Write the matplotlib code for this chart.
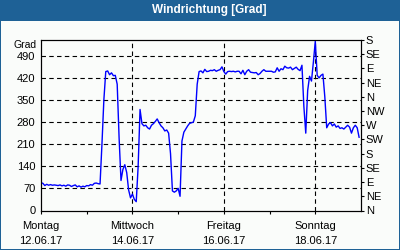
import matplotlib
matplotlib.use("Agg")
import matplotlib.pyplot as plt
from matplotlib.patches import Rectangle

# hourly wind direction readings, Mon 12.06.17 00:00 .. Sun 18.06.17 23:00
HOURS = list(range(168))
DIRECTION = [
    88, 86, 79, 83, 80, 82, 80, 81, 80, 79, 81, 78, 80, 77, 81, 80,
    76, 79, 81, 75, 78, 74, 77, 75, 79, 78, 82, 80, 86, 87, 85, 84,
    210, 350, 440, 442, 430, 436, 427, 428, 400, 230, 95, 130, 145, 120,
    65, 40, 52, 35, 28, 140, 320, 275, 268, 270, 262, 258, 270, 275,
    282, 290, 278, 268, 262, 252, 255, 245, 180, 62, 58, 62, 70, 45,
    220, 248, 258, 268, 276, 278, 280, 300, 400, 440, 442, 436, 447, 440,
    441, 444, 443, 446, 441, 444, 446, 455, 440, 432, 440, 441, 440, 441,
    439, 441, 441, 433, 444, 430, 441, 446, 438, 437, 436, 437, 430, 434,
    441, 446, 441, 441, 441, 441, 438, 439, 452, 441, 449, 446, 457, 452,
    451, 454, 446, 450, 454, 447, 443, 460, 330, 245, 380, 425, 410, 470,
    536, 428, 420, 428, 432, 360, 262, 274, 278, 268, 274, 264, 268, 260,
    262, 258, 264, 270, 264, 245, 262, 270, 262, 232,
]

LEFT_TICKS = [0, 70, 140, 210, 280, 350, 420, 490]
COMPASS = ["N", "NE", "E", "SE", "S", "SW", "W", "NW",
           "N", "NE", "E", "SE", "S"]
DAY_TICKS = [0, 48, 96, 144]
DAY_LABELS = ["Montag\n12.06.17", "Mittwoch\n14.06.17",
              "Freitag\n16.06.17", "Sonntag\n18.06.17"]

FRAME = "#1e6196"
PANEL = "#fafcfa"
LINE = "#0000ff"
FONT = "Liberation Sans"
FS = 8

fig = plt.figure(figsize=(4, 2.5), dpi=100)
fig.patch.set_facecolor(FRAME)
# light panel inside the blue frame (title bar on top, 1px border elsewhere)
fig.add_artist(Rectangle((1 / 400, 1 / 250), 398 / 400, 228 / 250,
                         transform=fig.transFigure, facecolor=PANEL,
                         edgecolor="none", zorder=0))
fig.text(0.523, 1 - 10.5 / 250, "Windrichtung [Grad]", color="white",
         fontsize=8.5, fontweight="bold", family=FONT,
         ha="center", va="center")

ax = fig.add_axes([41 / 400, 39.5 / 250, 320 / 400, 170.5 / 250])
ax.set_facecolor(PANEL)
ax.plot(HOURS, DIRECTION, color=LINE, lw=1.0, zorder=3)

ax.set_xlim(0, 168)
ax.set_ylim(0, 540)

ax.set_yticks(LEFT_TICKS)
ax.set_yticklabels([str(v) for v in LEFT_TICKS], family=FONT, fontsize=FS)
ax.tick_params(axis="y", length=0, pad=4)

ax.set_xticks(DAY_TICKS)
ax.set_xticklabels(DAY_LABELS, family=FONT, fontsize=FS, linespacing=1.6)
ax.set_xticks([24, 72, 120], minor=True)
ax.tick_params(axis="x", which="both", length=2.5, width=0.8, pad=5)

for v in LEFT_TICKS[1:]:
    ax.axhline(v, color="black", lw=0.8, ls=(0, (4, 3)), zorder=1)
for d in DAY_TICKS[1:]:
    ax.axvline(d, color="black", lw=0.8, ls=(0, (4, 3)), zorder=1)

for s in ax.spines.values():
    s.set_color("black")
    s.set_linewidth(0.8)

ax2 = ax.twinx()
ax2.set_ylim(0, 540)
ax2.set_yticks(range(0, 541, 45))
ax2.set_yticklabels(COMPASS, family=FONT, fontsize=FS)
ax2.tick_params(axis="y", length=2.5, width=0.8, pad=1)

ax.text(-0.015, 0.972, "Grad", transform=ax.transAxes, family=FONT,
        fontsize=7.5, ha="right", va="center")

fig.savefig("out.png", dpi=100, facecolor=FRAME)
